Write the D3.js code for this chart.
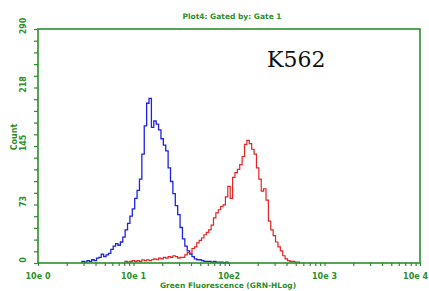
<!DOCTYPE html>
<html>
<head>
<meta charset="utf-8">
<script src="https://cdn.jsdelivr.net/npm/d3@7"></script>
<style>
  body { margin: 0; background: #fff; }
  text { font-family: "DejaVu Sans", sans-serif; font-weight: bold; }
</style>
</head>
<body>
<script>
      // Width and height
      var w = 429;
      var h = 291;

      var margin = {top: 29, right: 9, bottom: 28, left: 38};

      // Histogram bins: log10 position of first bin, bin step (decades), counts
      var binStep = 0.025;

      var blueStart = 0.45;
      var blueCounts = [1, 2, 1, 3, 2, 4, 3, 6, 7, 11, 8, 10, 12, 17, 21, 24, 22, 26, 32, 41,
                        49, 58, 67, 80, 90, 104, 135, 170, 198, 204, 168, 176, 172, 165, 154, 146, 139, 118, 101, 86,
                        71, 60, 44, 30, 21, 15, 11, 8, 5, 4, 4, 3, 2, 2, 2, 1, 2, 1, 1, 1,
                        0, 1, 0];

      var redStart = 0.9;
      var redCounts = [1, 2, 1, 2, 3, 2, 3, 2, 4, 3, 4, 3, 4, 5, 4, 6, 5, 7, 6, 8,
                       7, 9, 8, 6, 7, 7, 10, 13, 12, 18, 20, 25, 28, 31, 35, 38, 41, 47, 56, 62,
                       66, 70, 72, 82, 95, 80, 106, 112, 116, 122, 132, 147, 152, 148, 141, 135, 118, 104, 89, 92,
                       78, 52, 41, 34, 26, 20, 15, 9, 5, 3, 2, 2, 1, 1, 0];

      var xTickValues = [1, 10, 100, 1000, 10000];
      var xTickLabels = ["10e 0", "10e 1", "10e2", "10e 3", "10e 4"];
      var yTickValues = [0, 72.5, 145, 217.5, 290];
      var yTickLabels = ["0", "73", "145", "218", "290"];

      var titleText = "Plot4: Gated by: Gate 1";
      var xTitle = "Green Fluorescence (GRN-HLog)";
      var yTitle = "Count";
      var sampleLabel = "K562";

      var green = "#2b8f2b";

      var svg = d3.select("body")
          .append("svg")
          .attr("width", w)
          .attr("height", h);

      var x = d3.scaleLog()
          .domain([1, 10000])
          .range([margin.left, w - margin.right]);

      var y = d3.scaleLinear()
          .domain([0, 290])
          .range([h - margin.bottom, margin.top]);

      function toPoints(start, counts) {
        return counts.map((c, i) => ({v: Math.pow(10, start + i * binStep), c: c}));
      }

      var line = d3.line()
          .x(d => x(d.v))
          .y(d => y(d.c))
          .curve(d3.curveStep);

    // Histogram traces

      svg.append("path")
          .datum(toPoints(blueStart, blueCounts))
          .attr("d", line)
          .attr("fill", "none")
          .attr("stroke", "#1c22e6")
          .attr("stroke-width", 1.3);

      svg.append("path")
          .datum(toPoints(redStart, redCounts))
          .attr("d", line)
          .attr("fill", "none")
          .attr("stroke", "#e62222")
          .attr("stroke-width", 1.2);

    // Frame

      svg.append("rect")
          .attr("x", x(1))
          .attr("y", y(290))
          .attr("width", x(10000) - x(1))
          .attr("height", y(0) - y(290))
          .attr("fill", "none")
          .attr("stroke", green)
          .attr("stroke-width", 1.6);

    // X axis: log ticks, labelled at decades

      var xAxis = d3.axisBottom(x)
          .tickValues(x.ticks())
          .tickSize(3)
          .tickFormat("");

      var gx = svg.append("g")
          .attr("transform", `translate(0, ${y(0)})`)
          .call(xAxis);
      gx.select(".domain").remove();
      gx.selectAll("line").attr("stroke", green).attr("stroke-width", 1.2);

      svg.append("g")
          .selectAll("text")
          .data(xTickValues)
          .enter().append("text")
          .attr("x", (d, i) => i == xTickValues.length - 1 ? w - 1 : x(d))
          .attr("y", 279)
          .attr("text-anchor", (d, i) => i == xTickValues.length - 1 ? "end" : "middle")
          .attr("font-size", 8)
          .attr("fill", green)
          .text((d, i) => xTickLabels[i]);

    // Y axis: 20 ticks, 5 labelled

      var yAxis = d3.axisLeft(y)
          .tickValues(d3.range(0, 291, 14.5))
          .tickSize(4)
          .tickFormat("");

      var gy = svg.append("g")
          .attr("transform", `translate(${x(1)}, 0)`)
          .call(yAxis);
      gy.select(".domain").remove();
      gy.selectAll("line").attr("stroke", green).attr("stroke-width", 1.2);

      svg.append("g")
          .selectAll("text")
          .data(yTickValues)
          .enter().append("text")
          .attr("transform", d => `translate(26, ${y(d) - 3}) rotate(-90)`)
          .attr("text-anchor", "middle")
          .attr("font-size", 8)
          .attr("fill", green)
          .text((d, i) => yTickLabels[i]);

    // Titles

      svg.append("text")
          .attr("x", 232)
          .attr("y", 19)
          .attr("text-anchor", "middle")
          .attr("font-size", 7.5)
          .attr("fill", green)
          .text(titleText);

      svg.append("text")
          .attr("x", 228)
          .attr("y", 288)
          .attr("text-anchor", "middle")
          .attr("font-size", 7.5)
          .attr("fill", green)
          .text(xTitle);

      svg.append("text")
          .attr("transform", "translate(17, 137) rotate(-90)")
          .attr("text-anchor", "middle")
          .attr("font-size", 8)
          .attr("fill", green)
          .text(yTitle);

      svg.append("text")
          .attr("x", 267)
          .attr("y", 67)
          .style("font-family", "'DejaVu Serif', serif")
          .style("font-weight", "normal")
          .attr("font-size", 22)
          .attr("fill", "#111")
          .text(sampleLabel);
</script>
</body>
</html>
